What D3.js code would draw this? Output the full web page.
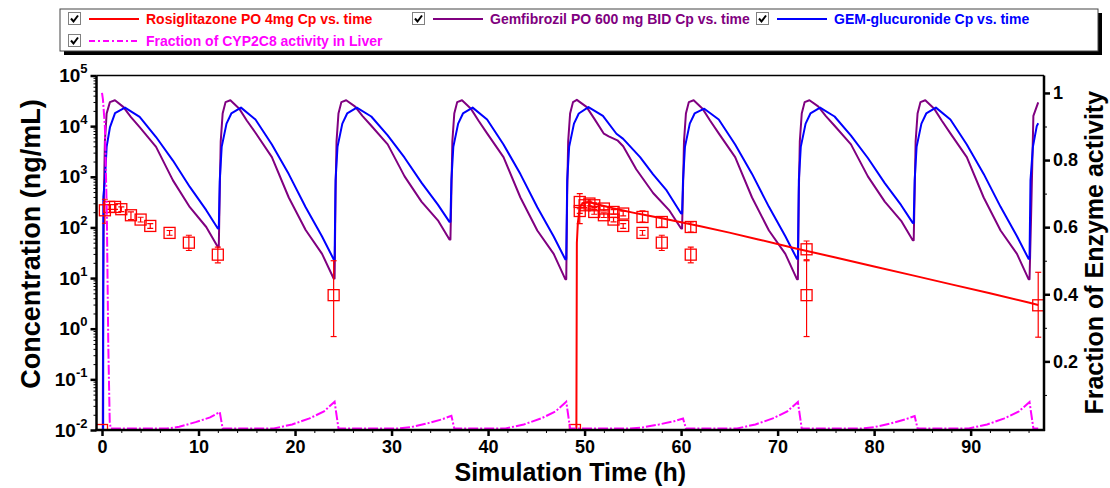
<!DOCTYPE html>
<html><head><meta charset="utf-8">
<script src="https://cdn.jsdelivr.net/npm/d3@7"></script>
<style>
body{margin:0;background:#fff}
svg{display:block}
text{font-family:"Liberation Sans",Arial,sans-serif;font-weight:bold}
</style>
</head><body>
<svg id="c" width="1110" height="488"></svg>
<script>
// ---------- DATA ----------
// Gemfibrozil PO 600 mg BID Cp (ng/mL)
const gemTime = [
0,0.08,0.12,0.2,0.3,0.48,0.82,1.34,2.2,3.0,3.9,5.6,7.35,9.1,10.8,12.0,
12.1,12.2,12.3,12.5,12.8,13.3,14.2,15.0,15.9,17.6,19.35,21.1,22.8,24.0,
24.1,24.2,24.3,24.5,24.8,25.3,26.2,27.0,27.9,29.6,31.35,33.1,34.8,36.0,
36.1,36.2,36.3,36.5,36.8,37.3,38.2,39.0,39.9,41.6,43.35,45.1,46.8,48.0,
48.1,48.2,48.3,48.5,48.8,49.2,50.2,51.0,52.0,52.5,53.4,54.0,55.35,57.1,58.8,60.0,
60.1,60.2,60.3,60.5,60.8,61.3,62.2,63.0,63.9,65.6,67.35,69.1,70.8,72.0,
72.1,72.2,72.3,72.5,72.8,73.3,74.2,75.0,75.9,77.6,79.35,81.1,82.8,84.0,
84.1,84.2,84.3,84.5,84.8,85.3,86.2,87.0,87.9,89.6,91.35,93.1,94.8,96.0,
96.1,96.25,96.5,97.0];
const gemConc = [
0.01,0.01,5,470,5000,17800,29800,32500,24000,15100,9550,3890,850,251,102,41,
41,500,5000,17800,29800,32500,22400,12900,7400,2450,390,89,30,9.8,
9.8,500,5000,17800,29800,32500,24500,15800,10200,4370,1020,324,138,58,
58,500,5000,17800,29800,32500,22400,12900,7200,2450,390,87,30,9.5,
9.5,500,5000,17800,29800,33000,24000,14100,7100,6300,5250,4000,1410,479,214,95,
95,600,5000,17800,29800,32500,22400,12900,7200,2450,390,87,30,9.5,
9.5,500,5000,17800,29800,32500,24500,15800,10200,4370,1020,324,135,56,
56,500,5000,17800,29800,32500,22400,12900,7200,2450,390,87,30,9.5,
9.5,130,16000,29500];

// GEM-glucuronide Cp (ng/mL)
const gluTime = [
0,0.12,0.14,0.3,0.48,0.83,1.35,2.38,3.9,5.6,7.35,9.1,10.8,12.0,
12.1,12.2,12.4,12.9,13.4,14.4,15.9,17.6,19.35,21.1,22.8,24.0,
24.1,24.2,24.4,24.9,25.4,26.4,27.9,29.6,31.35,33.1,34.8,36.0,
36.1,36.2,36.4,36.9,37.4,38.4,39.9,41.6,43.35,45.1,46.8,48.0,
48.1,48.2,48.4,48.9,49.4,50.4,51.9,53.3,54.0,55.75,57.1,58.5,60.0,
60.1,60.2,60.4,60.9,61.4,62.4,63.9,65.6,67.35,69.1,70.8,72.0,
72.1,72.2,72.4,72.9,73.4,74.4,75.9,77.6,79.35,81.1,82.8,84.0,
84.1,84.2,84.4,84.9,85.4,86.4,87.9,89.6,91.35,93.1,94.8,96.0,
96.1,96.2,96.45,96.85,97.0];
const gluConc = [
0.01,0.01,400,850,3900,9600,18000,23200,15200,6100,2090,630,219,95,
95,850,3900,11200,17800,23200,13500,4340,1130,251,66,23.5,
23.5,850,3900,11200,17800,23200,15500,6560,2380,769,282,129,
129,850,3900,11200,17800,23200,13500,4340,1130,251,66,23.5,
23.5,850,3900,11200,17800,23800,15900,7080,5600,2450,1120,537,188,
188,850,3900,11200,17800,22100,13500,4340,1140,255,67,24,
24,850,3900,11200,17800,23200,15500,6500,2350,750,275,123,
123,850,3900,11200,17800,23200,13500,4340,1140,255,67,24,
24,850,3900,10000,11400];

// Rosiglitazone PO 4mg Cp (ng/mL), simulated
const rosTime = [0,49.0,49.15,49.2,49.3,49.45,49.6,49.8,50.1,50.6,51.0,52.0,53.0,54.0,55.0,56.0,58.0,60.0,62.0,65.0,68.0,72.0,76.0,80.0,84.0,88.0,92.0,96.0,97.0];
const rosConc = [0.01,0.01,0.01,50,120,210,270,300,315,310,298,265,238,215,196,180,152,127,106,79,58,38,25.5,17,11.3,7.5,5.0,3.3,2.95];

// Rosiglitazone observed (mean, low, high)
const obsTime = [0,0.3,0.75,1.35,2,3,4,5,7,9,12,24,
  49,49.5,49.5,50,50.5,51,51,52,52,53,53,54,54,56,56,58,58,61,61,73,73,97];
const obsConc = [0.01,218,254,254,229,174,143,107,78,50,29,4.6,
  0.01,318,211,274,296,274,202,236,174,202,143,188,107,161,78,128,50,102,29,37,4.6,2.9];
const obsLo = [null,121,228,228,206,143,128,96,70,35,20,0.7,
  null,119,190,247,266,247,182,212,157,182,129,169,96,128,70,102,35,81,20,23,0.7,0.68];
const obsHi = [null,360,282,282,254,202,159,119,87,70,41,22,
  null,467,234,304,329,304,224,262,193,224,159,209,119,212,87,163,70,128,41,54,22,13];

// Fraction of CYP2C8 activity in Liver (right axis)
const fracTime = [0,0.1,0.3,0.5,0.65,0.8,0.9,
  6.7,8,9.7,11.2,12.2,12.5,
  17.8,19.7,21.5,23.0,24.1,24.5,
  30.7,32,33.7,35.2,36.2,36.5,
  41.8,43.7,45.5,47.0,48.1,48.5,
  54.7,56,57.7,59.2,60.2,60.5,
  65.8,67.7,69.5,71.0,72.1,72.5,
  78.7,80,81.7,83.2,84.2,84.5,
  89.8,91.7,93.5,95.0,96.1,96.5,97.0];
const fracVal = [1.0,0.98,0.9,0.64,0.25,0.02,0,
  0,0.005,0.019,0.033,0.049,0,
  0,0.012,0.03,0.051,0.08,0,
  0,0.004,0.015,0.027,0.038,0,
  0,0.012,0.03,0.051,0.08,0,
  0,0.003,0.012,0.021,0.03,0,
  0,0.012,0.03,0.051,0.079,0,
  0,0.004,0.015,0.027,0.037,0,
  0,0.012,0.03,0.051,0.079,0,0];

// Axis ticks
const xMajor = [0,10,20,30,40,50,60,70,80,90];
const yMajorExp = [-2,-1,0,1,2,3,4,5];
const rMajor = [0.2,0.4,0.6,0.8,1];

const legendItems = [
  {label:"Rosiglitazone PO 4mg Cp vs. time", color:"#ff0000", dash:null, row:0, col:0},
  {label:"Gemfibrozil PO 600 mg BID Cp vs. time", color:"#800080", dash:null, row:0, col:1},
  {label:"GEM-glucuronide Cp vs. time", color:"#0000ff", dash:null, row:0, col:2},
  {label:"Fraction of CYP2C8 activity in Liver", color:"#ff00ff", dash:"6,3,2,3", row:1, col:0}
];

// ---------- CHART ----------
const svg = d3.select("#c");
const m = {l:96.5, r:1044, t:75.5, b:430};
const x = d3.scaleLinear().domain([-0.57, 97.6]).range([m.l, m.r]);
const yL = d3.scaleLog().domain([1e-2, 1e5]).range([m.b, m.t]);
const yR = d3.scaleLinear().domain([-0.0045, 1.052]).range([m.b, m.t]);

svg.append("clipPath").attr("id","clip").append("rect")
  .attr("x",m.l).attr("y",m.t).attr("width",m.r-m.l).attr("height",m.b-m.t);

const plot = svg.append("g").attr("clip-path","url(#clip)");

function lineL(ts, vs){ return d3.line().x((d,i)=>x(ts[i])).y((d,i)=>yL(vs[i]))(ts); }
function lineR(ts, vs){ return d3.line().x((d,i)=>x(ts[i])).y((d,i)=>yR(vs[i]))(ts); }

plot.append("path").attr("d",lineL(gemTime,gemConc)).attr("fill","none").attr("stroke","#800080").attr("stroke-width",2).attr("stroke-linejoin","round");
plot.append("path").attr("d",lineL(gluTime,gluConc)).attr("fill","none").attr("stroke","#0000ff").attr("stroke-width",2).attr("stroke-linejoin","round");
plot.append("path").attr("d",lineL(rosTime,rosConc)).attr("fill","none").attr("stroke","#ff0000").attr("stroke-width",2);

// observed points
const obs = obsTime.map((t,i)=>({t, v:obsConc[i], lo:obsLo[i], hi:obsHi[i]}));
const og = plot.append("g").attr("stroke","#ff0000").attr("fill","none");
obs.forEach(o=>{
  const cx = x(o.t), cy = yL(o.v);
  if (o.lo!=null){
    const y1 = yL(o.lo), y2 = yL(o.hi);
    og.append("line").attr("x1",cx).attr("x2",cx).attr("y1",y1).attr("y2",y2).attr("stroke-width",1.2);
    og.append("line").attr("x1",cx-3).attr("x2",cx+3).attr("y1",y1).attr("y2",y1).attr("stroke-width",1.2);
    og.append("line").attr("x1",cx-3).attr("x2",cx+3).attr("y1",y2).attr("y2",y2).attr("stroke-width",1.2);
  }
  og.append("rect").attr("x",cx-5.5).attr("y",cy-5.5).attr("width",11).attr("height",11).attr("stroke-width",1.3);
});

plot.append("path").attr("d",lineR(fracTime,fracVal)).attr("fill","none").attr("stroke","#ff00ff")
  .attr("stroke-width",2).attr("stroke-dasharray","10,2,2,2");

// frame
svg.append("line").attr("x1",m.l).attr("x2",m.r).attr("y1",m.t).attr("y2",m.t).attr("stroke","#000").attr("stroke-width",1.5);

// bottom axis
const xMinor = d3.range(0, 97, 2).filter(v=>v%10!==0);
const gx = svg.append("g").attr("transform",`translate(0,${m.b})`);
gx.call(d3.axisBottom(x).tickValues(xMinor).tickSize(3).tickFormat(""));
gx.call(g=>g.selectAll(".tick line").attr("stroke-width",1));
const gx2 = svg.append("g").attr("transform",`translate(0,${m.b})`);
gx2.call(d3.axisBottom(x).tickValues(xMajor).tickSize(6).tickPadding(4).tickFormat(d3.format("d")));
gx2.selectAll(".tick line").attr("stroke-width",2.5);
gx2.selectAll(".tick text").attr("font-size",18).attr("fill","#000").attr("font-family","Liberation Sans, Arial, sans-serif").attr("font-weight","bold");
svg.selectAll(".domain").remove();
svg.append("line").attr("x1",m.l-1).attr("x2",m.r+1).attr("y1",m.b).attr("y2",m.b).attr("stroke","#000").attr("stroke-width",2.5);

// left axis
const yMinor = [];
for (let e=-2;e<5;e++) for (let k=2;k<10;k++) yMinor.push(k*Math.pow(10,e));
const gy = svg.append("g").attr("transform",`translate(${m.l},0)`);
gy.call(d3.axisLeft(yL).tickValues(yMinor).tickSize(3).tickFormat(""));
gy.selectAll(".tick line").attr("stroke-width",1);
const gy2 = svg.append("g").attr("transform",`translate(${m.l},0)`);
gy2.call(d3.axisLeft(yL).tickValues(yMajorExp.map(e=>Math.pow(10,e))).tickSize(6).tickFormat(""));
gy2.selectAll(".tick line").attr("stroke-width",2.5);
gy.select(".domain").remove(); gy2.select(".domain").remove();
svg.append("line").attr("x1",m.l).attr("x2",m.l).attr("y1",m.t).attr("y2",m.b+1).attr("stroke","#000").attr("stroke-width",2.5);
yMajorExp.forEach(e=>{
  const t = svg.append("text").attr("x",m.l-9).attr("y",yL(Math.pow(10,e))+6.5)
    .attr("text-anchor","end").attr("font-size",19).attr("fill","#000");
  t.append("tspan").text("10");
  t.append("tspan").attr("font-size",13).attr("dy",-9).text(String(e));
});

// right axis
const rMinor = [0.1,0.3,0.5,0.7,0.9];
const gr = svg.append("g").attr("transform",`translate(${m.r},0)`);
gr.call(d3.axisRight(yR).tickValues(rMinor).tickSize(3).tickFormat(""));
gr.selectAll(".tick line").attr("stroke-width",1);
const gr2 = svg.append("g").attr("transform",`translate(${m.r},0)`);
gr2.call(d3.axisRight(yR).tickValues(rMajor).tickSize(6).tickPadding(3).tickFormat(d=>String(d)));
gr2.selectAll(".tick line").attr("stroke-width",2.5);
gr2.selectAll(".tick text").attr("font-size",18).attr("fill","#000").attr("font-family","Liberation Sans, Arial, sans-serif").attr("font-weight","bold");
gr.select(".domain").remove(); gr2.select(".domain").remove();
svg.append("line").attr("x1",m.r).attr("x2",m.r).attr("y1",m.t).attr("y2",m.b+1).attr("stroke","#000").attr("stroke-width",2.5);

// axis titles
svg.append("text").attr("x",(m.l+m.r)/2).attr("y",481).attr("text-anchor","middle").attr("font-size",25).text("Simulation Time (h)");
svg.append("text").attr("transform",`translate(40,244) rotate(-90)`).attr("text-anchor","middle").attr("font-size",27).text("Concentration (ng/mL)");
svg.append("text").attr("transform",`translate(1103,${(m.t+m.b)/2}) rotate(-90)`).attr("text-anchor","middle").attr("font-size",25).text("Fraction of Enzyme activity");

// legend
const lg = svg.append("g");
lg.append("rect").attr("x",64).attr("y",13).attr("width",1038).attr("height",42).attr("fill","#000");
lg.append("rect").attr("x",60).attr("y",9).attr("width",1038).attr("height",42).attr("fill","#fff").attr("stroke","#444").attr("stroke-width",1);
const colX = [68, 412, 756];
const rowY = [19, 41];
legendItems.forEach(it=>{
  const bx = colX[it.col], cy = rowY[it.row];
  lg.append("rect").attr("x",bx+0.5).attr("y",cy-6.5).attr("width",12).attr("height",12).attr("fill","#fff").attr("stroke","#808080").attr("stroke-width",1);
  lg.append("path").attr("d",`M${bx+3},${cy-0.5} L${bx+5.5},${cy+2.5} L${bx+10},${cy-3.5}`).attr("fill","none").attr("stroke","#000").attr("stroke-width",2);
  const ln = lg.append("line").attr("x1",bx+21).attr("x2",bx+71).attr("y1",cy).attr("y2",cy).attr("stroke",it.color).attr("stroke-width",2);
  if (it.dash) ln.attr("stroke-dasharray",it.dash);
  lg.append("text").attr("x",bx+78).attr("y",cy+5).attr("font-size",14).attr("fill",it.color).text(it.label);
});
</script>
</body></html>
